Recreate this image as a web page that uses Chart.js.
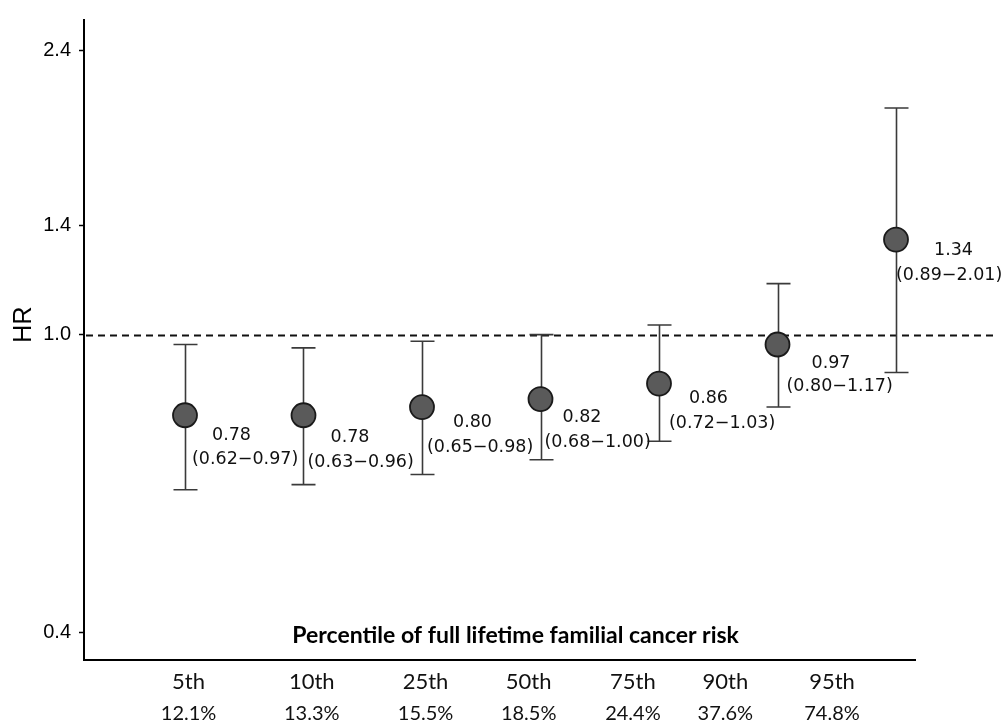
<!DOCTYPE html>
<html>
<head>
<meta charset="utf-8">
<script src="https://cdn.jsdelivr.net/npm/chart.js@4/dist/chart.umd.min.js"></script>
<style>
  html, body { margin: 0; padding: 0; background: #fff; }
  #wrap { width: 1004px; height: 722px; }
</style>
</head>
<body>
<div id="wrap"><canvas id="c" width="1004" height="722"></canvas></div>
<script>
// ---- data ----
const percentiles = ['5th', '10th', '25th', '50th', '75th', '90th', '95th'];
const riskShares = ['12.1%', '13.3%', '15.5%', '18.5%', '24.4%', '37.6%', '74.8%'];
const hazardRatios = [0.78, 0.78, 0.80, 0.82, 0.86, 0.97, 1.34];
const ciLower = [0.62, 0.63, 0.65, 0.68, 0.72, 0.80, 0.89];
const ciUpper = [0.97, 0.96, 0.98, 1.00, 1.03, 1.17, 2.01];
const yTickValues = [0.4, 1.0, 1.4, 2.4];
const referenceHR = 1.0;
const yTitle = 'HR';
const innerTitle = 'Percentile of full lifetime familial cancer risk';

// ---- layout ----
const xRange = { min: -0.8523, max: 6.1603 };
const yRange = { min: 0.367, max: 2.636 };
const tickSlots = [0.03, 1.07, 2.03, 2.90, 3.78, 4.56, 5.46];   // where the category captions sit on the x scale
const titleSlot = 2.79;
// per-label nudges: [line2 dx, line1 dx, line1 dy, line2 dy] in px from the point centre
const labelNudges = [[7, 27, 20, 44], [4, 27, 22, 47], [5, 31, 15, 40], [4, 22, 18, 43], [10, 30, 15, 40], [9, 34, 19, 42], [0, 38, 11, 36]];

const fmt = v => v.toFixed(2);

const referenceLine = {
  id: 'referenceLine',
  beforeDatasetsDraw(chart) {
    const { ctx, chartArea, scales: { y } } = chart;
    const py = Math.round(y.getPixelForValue(referenceHR)) + 0.5;
    ctx.save();
    ctx.strokeStyle = '#111';
    ctx.lineWidth = 2;
    ctx.setLineDash([7, 5]);
    ctx.beginPath();
    ctx.moveTo(chartArea.left + 2, py);
    ctx.lineTo(chart.width - 9, py);
    ctx.stroke();
    ctx.restore();
  }
};

const errorBars = {
  id: 'errorBars',
  beforeDatasetsDraw(chart) {
    const { ctx, scales: { x, y } } = chart;
    ctx.save();
    ctx.strokeStyle = '#3a3a3a';
    ctx.lineWidth = 1.6;
    hazardRatios.forEach((hr, i) => {
      const px = Math.round(x.getPixelForValue(i)) + 0.5;
      const lo = y.getPixelForValue(ciLower[i]);
      const hi = y.getPixelForValue(ciUpper[i]);
      ctx.beginPath();
      ctx.moveTo(px, lo); ctx.lineTo(px, hi);
      ctx.moveTo(px - 12, lo); ctx.lineTo(px + 12, lo);
      ctx.moveTo(px - 12, hi); ctx.lineTo(px + 12, hi);
      ctx.stroke();
    });
    ctx.restore();
  }
};

const valueLabels = {
  id: 'valueLabels',
  afterDatasetsDraw(chart) {
    const { ctx, scales: { x, y } } = chart;
    ctx.save();
    ctx.fillStyle = '#111';
    ctx.font = '17.5px "DejaVu Sans"';
    ctx.textAlign = 'left';
    ctx.textBaseline = 'middle';
    hazardRatios.forEach((hr, i) => {
      const px = x.getPixelForValue(i);
      const py = y.getPixelForValue(hr);
      const [dx2, dx1, dy1, dy2] = labelNudges[i];
      ctx.fillText(fmt(hr), px + dx1, py + dy1);
      ctx.fillText('(' + fmt(ciLower[i]) + '\u2212' + fmt(ciUpper[i]) + ')', px + dx2, py + dy2);
    });
    ctx.restore();
  }
};

const plotTexts = {
  id: 'plotTexts',
  afterDatasetsDraw(chart) {
    const { ctx, scales: { x, y } } = chart;
    ctx.save();
    ctx.fillStyle = '#000';
    ctx.font = 'bold 23px Lato';
    ctx.textAlign = 'center';
    ctx.textBaseline = 'middle';
    ctx.fillText(innerTitle, x.getPixelForValue(titleSlot), y.getPixelForValue(yTickValues[0]) + 4);
    // rotated y-axis caption, sitting just above the reference level
    ctx.font = '25px "Liberation Sans"';
    ctx.translate(24, y.getPixelForValue(referenceHR) - 10);
    ctx.rotate(-Math.PI / 2);
    ctx.fillText(yTitle, 0, 0);
    ctx.restore();
  }
};

const slotTicks = scale => { scale.ticks = tickSlots.map(v => ({ value: v })); };

new Chart(document.getElementById('c'), {
  type: 'scatter',
  data: {
    datasets: [{
      data: hazardRatios.map((hr, i) => ({ x: i, y: hr })),
      xAxisID: 'x',
      yAxisID: 'y',
      pointRadius: 12,
      pointHoverRadius: 12,
      backgroundColor: '#5a5a5a',
      borderColor: '#1a1a1a',
      borderWidth: 1.8,
      showLine: false
    }]
  },
  options: {
    responsive: false,
    devicePixelRatio: 1,
    animation: false,
    layout: { padding: { top: 17, right: 89, left: 0, bottom: 0 } },
    plugins: { legend: { display: false }, tooltip: { enabled: false } },
    scales: {
      x: {
        type: 'linear', position: 'bottom', weight: 0, bounds: 'data',
        min: xRange.min, max: xRange.max,
        afterBuildTicks: slotTicks,
        afterFit: s => { s.height = 40; },
        grid: { display: false, drawTicks: false },
        border: { display: true, color: '#000', width: 2 },
        ticks: {
          autoSkip: false, maxRotation: 0, padding: 9, color: '#111',
          font: { family: 'Lato', size: 22 },
          callback: (v, i) => percentiles[i]
        }
      },
      x2: {
        type: 'linear', position: 'bottom', weight: 1, bounds: 'data',
        min: xRange.min, max: xRange.max,
        afterBuildTicks: slotTicks,
        afterFit: s => { s.height = 22; },
        grid: { display: false, drawTicks: false },
        border: { display: false },
        ticks: {
          autoSkip: false, maxRotation: 0, padding: 2, color: '#111',
          font: { family: 'Lato', size: 20 },
          callback: (v, i) => riskShares[i]
        }
      },
      y: {
        type: 'logarithmic', bounds: 'data',
        min: yRange.min, max: yRange.max,
        afterBuildTicks: s => { s.ticks = yTickValues.map(v => ({ value: v })); },
        afterFit: s => { s.width = 84; },
        grid: { display: true, drawOnChartArea: false, drawTicks: true, tickLength: 5, tickColor: '#000', tickWidth: 1.5 },
        border: { display: true, color: '#000', width: 2 },
        ticks: {
          padding: 8, color: '#000',
          font: { family: 'Liberation Sans', size: 20 },
          callback: v => Number(v).toFixed(1)
        },
        title: { display: false }
      }
    }
  },
  plugins: [referenceLine, errorBars, valueLabels, plotTexts]
});
</script>
</body>
</html>
